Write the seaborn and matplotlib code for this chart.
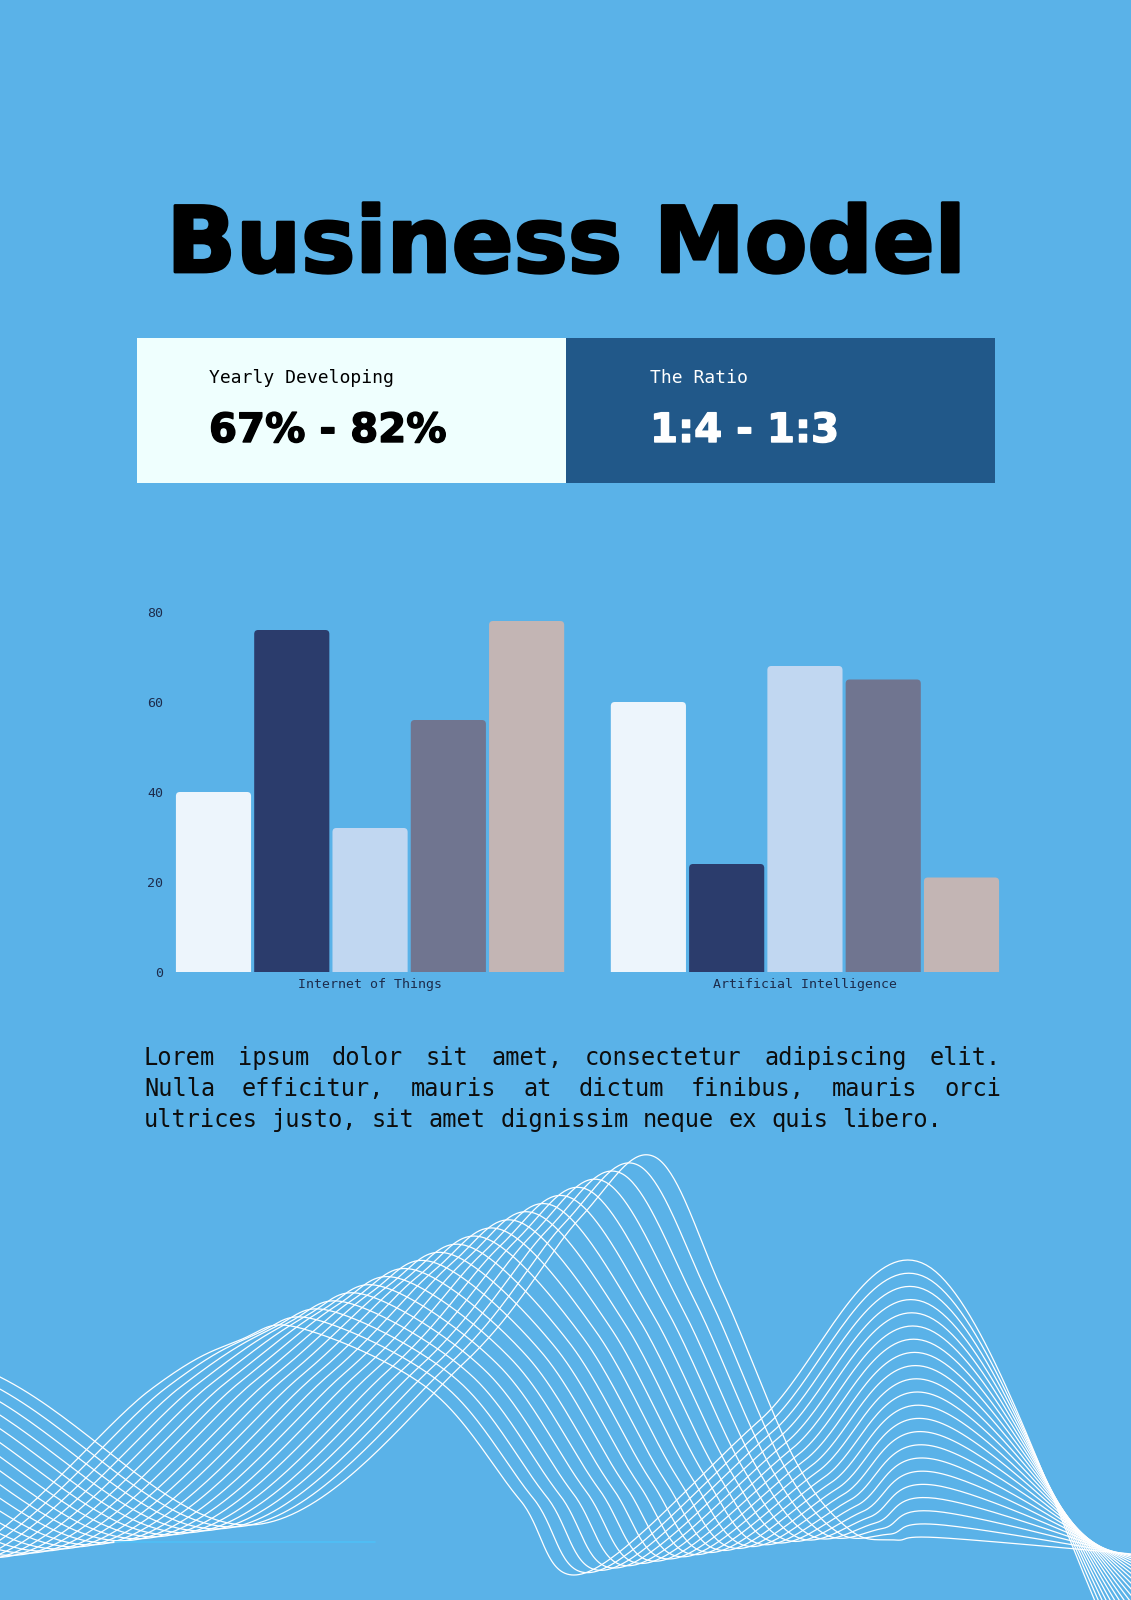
import numpy as np
import pandas as pd
import seaborn as sns
import matplotlib
matplotlib.use("Agg")
import matplotlib.pyplot as plt
from matplotlib.patches import Rectangle, FancyBboxPatch
import matplotlib.patheffects as pe

# chart data
categories = ["Internet of Things", "Artificial Intelligence"]
series = ["Series 1", "Series 2", "Series 3", "Series 4", "Series 5"]
iot_values = [40, 76, 32, 56, 78]
ai_values = [60, 24, 68, 65, 21]
bar_colors = ["#edf5fc", "#2b3c6c", "#c1d7f1", "#707590", "#c3b5b4"]
y_ticks = [0, 20, 40, 60, 80]

title = "Business Model"
left_label, left_value = "Yearly Developing", "67% - 82%"
right_label, right_value = "The Ratio", "1:4 - 1:3"
para_lines = [
    "Lorem ipsum dolor sit amet, consectetur adipiscing elit.",
    "Nulla efficitur, mauris at dictum finibus, mauris orci",
    "ultrices justo, sit amet dignissim neque ex quis libero.",
]

# decorative wave blend: two guide curves (pixel coords)
wave_a = [(-300, 1250), (0, 1377), (250, 1525), (464, 1363), (580, 1218), (655, 1157),
          (722, 1290), (795, 1460), (850, 1530), (895, 1540), (945, 1538), (1200, 1560)]
wave_b = [(-450, 1400), (-250, 1500), (-60, 1565), (150, 1390), (240, 1340), (300, 1328),
          (430, 1390), (520, 1500), (585, 1573), (760, 1420), (931, 1268), (1130, 1680)]

BG = "#5ab2e8"
MONO = "DejaVu Sans Mono"
TICK_COLOR = "#1d2c4c"

sns.set_style("white")
plt.rcParams["font.family"] = ["DejaVu Sans"]

fig = plt.figure(figsize=(11.31, 16), dpi=100)
fig.patch.set_facecolor(BG)

bg = fig.add_axes([0, 0, 1, 1], zorder=0)
bg.set_xlim(0, 1131)
bg.set_ylim(1600, 0)
bg.axis("off")


def catmull_rom(pts, n=40):
    p = np.asarray(pts, dtype=float)
    p = np.vstack([2 * p[0] - p[1], p, 2 * p[-1] - p[-2]])
    s = np.linspace(0, 1, n)[:, None]
    out = []
    for i in range(1, len(p) - 2):
        p0, p1, p2, p3 = p[i - 1], p[i], p[i + 1], p[i + 2]
        seg = 0.5 * ((2 * p1) + (-p0 + p2) * s + (2 * p0 - 5 * p1 + 4 * p2 - p3) * s ** 2
                     + (-p0 + 3 * p1 - 3 * p2 + p3) * s ** 3)
        out.append(seg)
    return np.vstack(out)


ca = catmull_rom(wave_a)
cb = catmull_rom(wave_b)
for t in np.linspace(0, 1, 22):
    c = (1 - t) * ca + t * cb
    bg.plot(c[:, 0], c[:, 1], color="white", lw=0.9)
bg.plot([115, 375], [1542, 1542], color="#4fc0f7", lw=1.2)

# header
bg.text(566, 272, title, ha="center", va="baseline", fontsize=65.7, fontweight="bold",
        color="black", path_effects=[pe.withStroke(linewidth=2, foreground="black")])

bg.add_patch(Rectangle((137, 338), 429, 145, facecolor="#effffe", edgecolor="none"))
bg.add_patch(Rectangle((566, 338), 429, 145, facecolor="#215889", edgecolor="none"))
bg.text(209, 383, left_label, fontsize=13, family=MONO, color="black", va="baseline")
bg.text(209, 442, left_value, fontsize=29, fontweight="bold", color="black", va="baseline",
        path_effects=[pe.withStroke(linewidth=1, foreground="black")])
bg.text(650, 383, right_label, fontsize=13, family=MONO, color="white", va="baseline")
bg.text(650, 442, right_value, fontsize=29, fontweight="bold", color="white", va="baseline",
        path_effects=[pe.withStroke(linewidth=1, foreground="white")])

# paragraph, justified
renderer = fig.canvas.get_renderer()
left_x, right_x = 144, 1001
baselines = [1065, 1096, 1127]
for i, line in enumerate(para_lines):
    words = line.split()
    texts = [bg.text(0, baselines[i], w, fontsize=17, family=MONO, color="#0d0d0d",
                     va="baseline") for w in words]
    widths = [t.get_window_extent(renderer).width for t in texts]
    if i < len(para_lines) - 1:
        gap = (right_x - left_x - sum(widths)) / (len(words) - 1)
    else:
        gap = widths[0] / len(words[0])
    x = left_x
    for t, w in zip(texts, widths):
        t.set_x(x)
        x += w + gap

# bar chart
rows = []
for cat, vals in zip(categories, [iot_values, ai_values]):
    for s, v in zip(series, vals):
        rows.append({"category": cat, "series": s, "value": v})
df = pd.DataFrame(rows)

ax = fig.add_axes([170 / 1131, 628 / 1600, 835 / 1131, 360 / 1600], zorder=2)
ax.set_facecolor("none")
sns.barplot(data=df, x="category", y="value", hue="series", hue_order=series,
            palette=bar_colors, width=0.9, gap=0.04, legend=False, ax=ax,
            saturation=1, linewidth=0)
ax.set_xlim(-0.46, 1.46)
ax.set_ylim(0, 80)

# rounded tops
r = 0.009
aspect = 0.9 / r
for p in list(ax.patches):
    x0, w, h = p.get_x(), p.get_width(), p.get_height()
    fc = p.get_facecolor()
    p.remove()
    ax.add_patch(FancyBboxPatch((x0, -3), w, h + 3,
                                boxstyle=f"round,pad=0,rounding_size={r}",
                                mutation_aspect=aspect, facecolor=fc, edgecolor="none",
                                clip_on=True))

ax.set_yticks(y_ticks)
ax.set_xlabel("")
ax.set_ylabel("")
ax.tick_params(length=0, labelsize=9.5, colors=TICK_COLOR, pad=4)
ax.tick_params(axis="y", pad=5)
for lbl in ax.get_xticklabels() + ax.get_yticklabels():
    lbl.set_family(MONO)
    lbl.set_color(TICK_COLOR)
for sp in ax.spines.values():
    sp.set_visible(False)
ax.grid(False)

fig.savefig("out.png", dpi=100, facecolor=fig.get_facecolor())
